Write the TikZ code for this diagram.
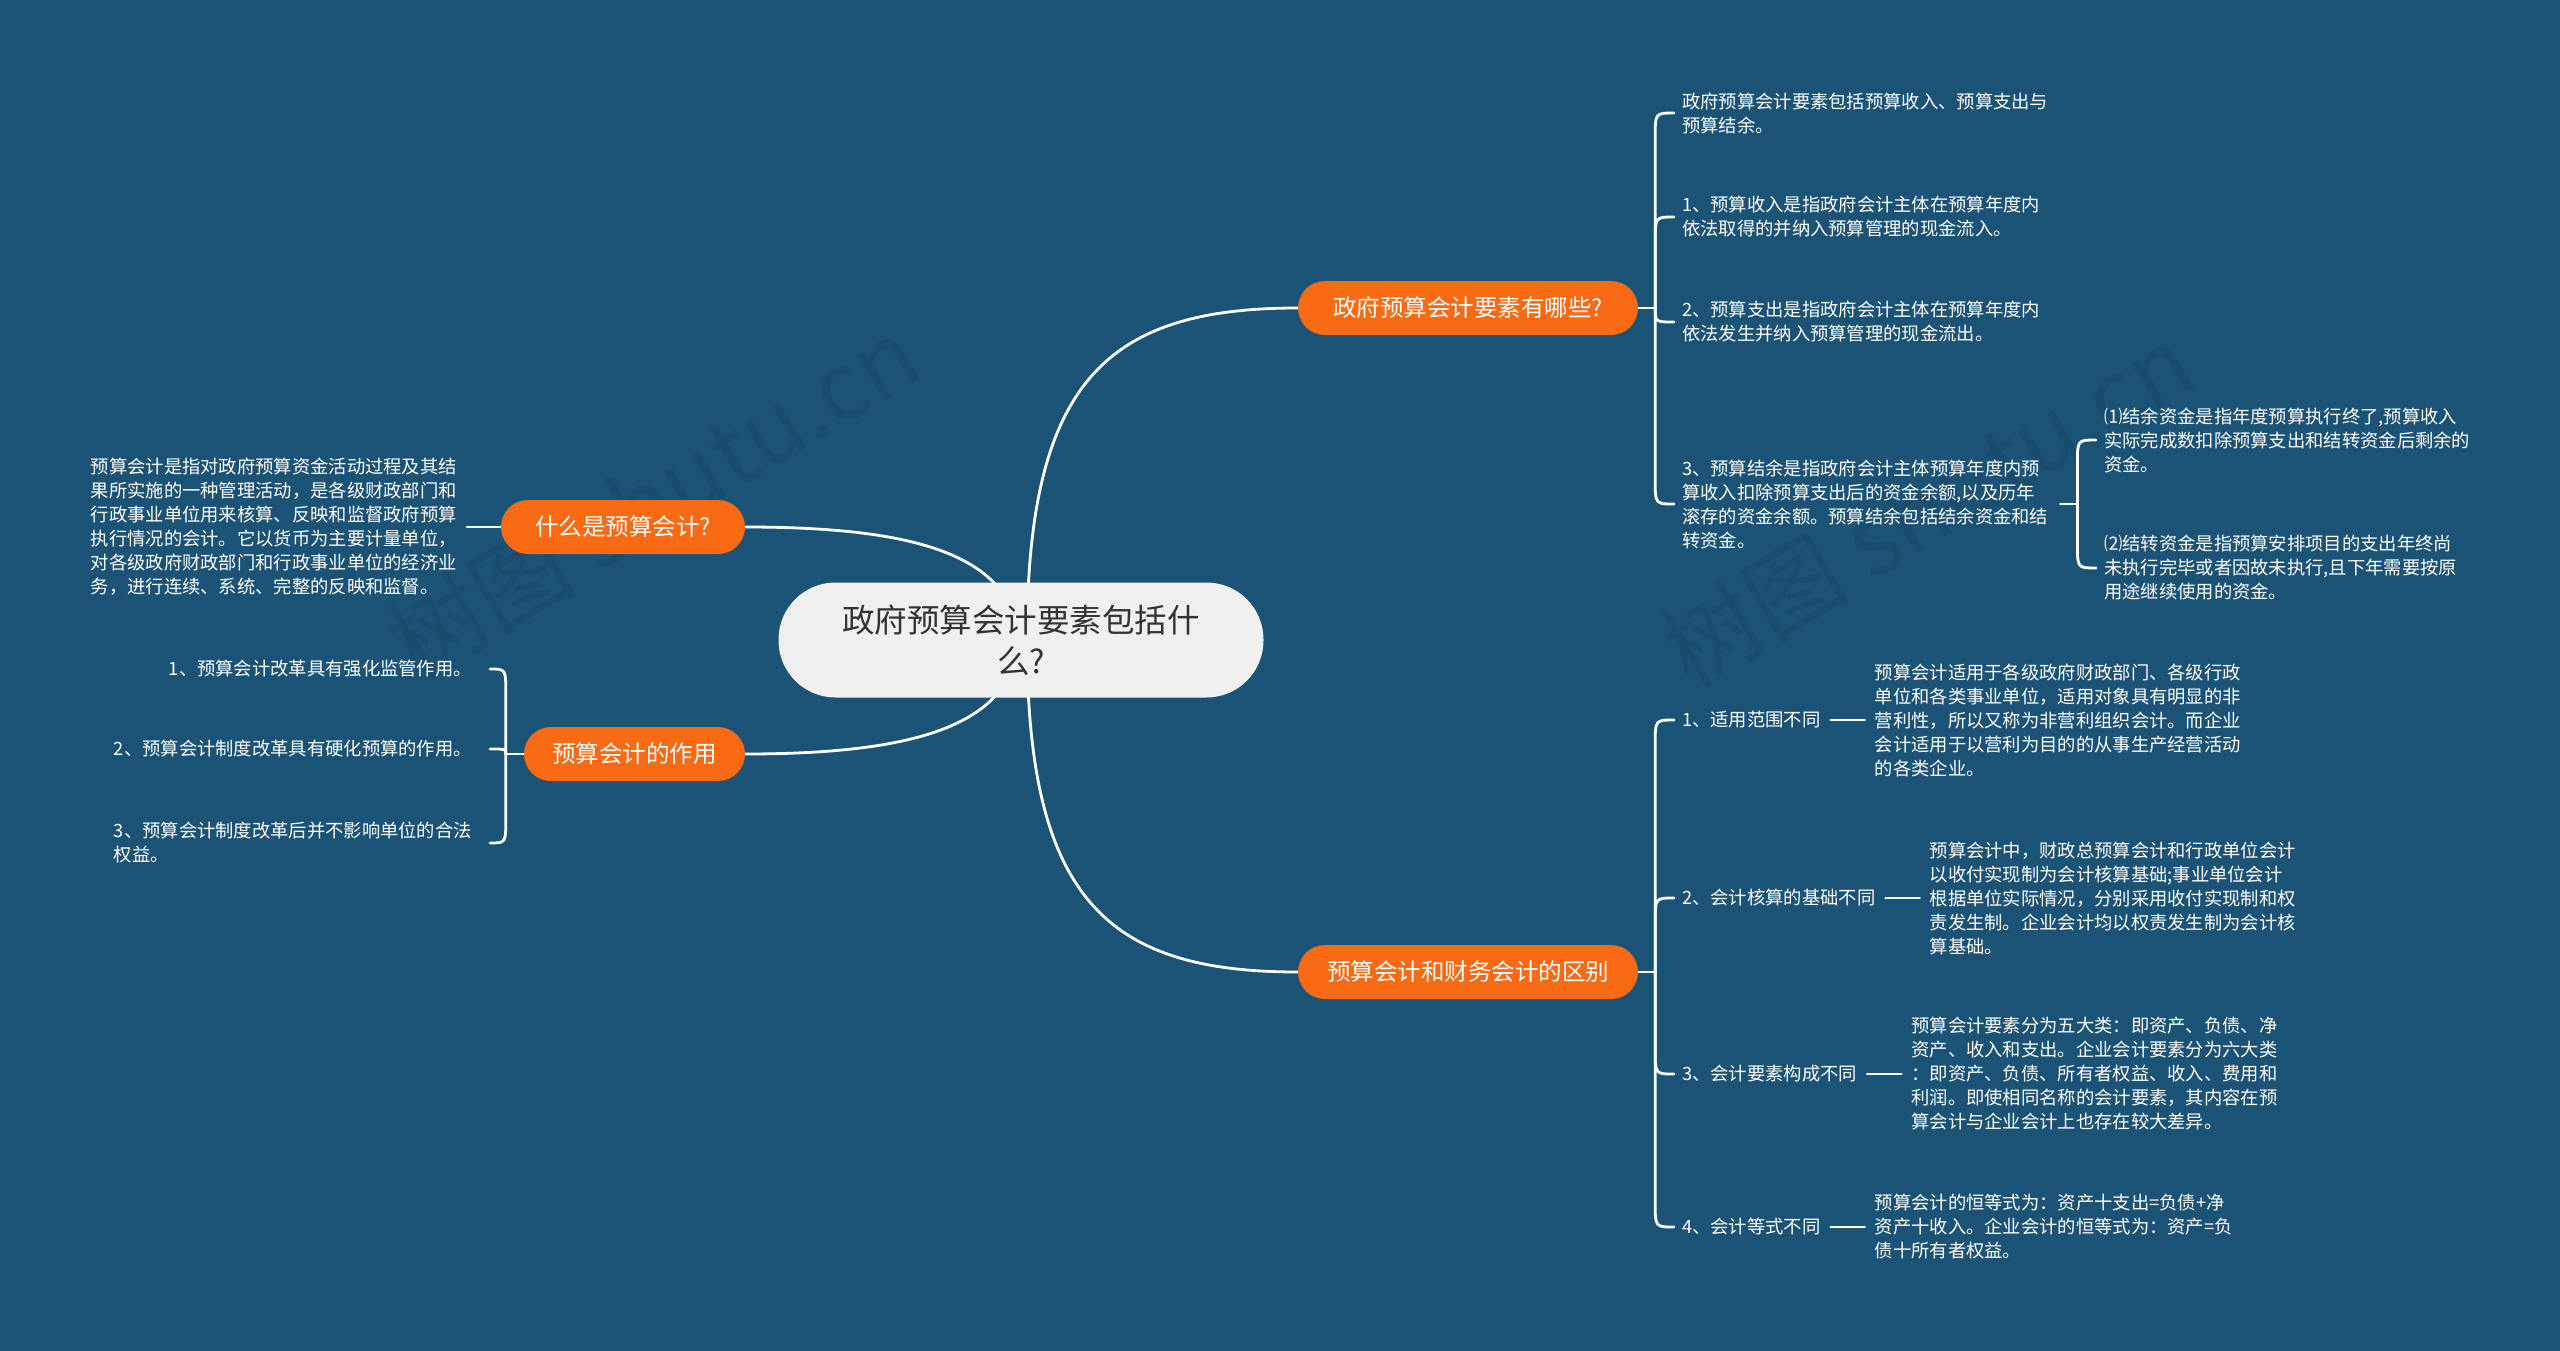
\documentclass[tikz,border=0pt]{standalone}
\usepackage{fontspec}
\setmainfont{Noto Sans CJK SC}
\usetikzlibrary{calc}
\definecolor{bgc}{HTML}{1B5377}
\definecolor{org}{HTML}{F96A14}
\definecolor{ctr}{HTML}{F0F0F0}
\definecolor{ink}{HTML}{333333}
\pgfdeclarelayer{bglayer}
\pgfdeclarelayer{edgelayer}
\pgfsetlayers{bglayer,edgelayer,main}
\begin{document}
\begin{tikzpicture}[x=1pt,y=-1pt,
  link/.style={draw=white, line width=2.8pt, line cap=round},
  topic/.style={fill=org, text=white, rounded corners=27pt, minimum height=54pt, inner xsep=28pt, font=\fontsize{23.5}{28}\selectfont},
  leaf/.style={text=white, inner sep=0pt, align=left, font=\fontsize{18.3}{24}\selectfont},
  central/.style={fill=ctr, text=ink, rounded corners=57pt, minimum width=485pt, minimum height=115pt, align=center, font=\fontsize{32.5}{41}\selectfont},
  wmark/.style={text=black, opacity=0.07, font=\fontsize{95}{95}\selectfont},
]
\useasboundingbox (0,0) rectangle (2560,1351);
\begin{pgfonlayer}{bglayer}
\fill[bgc] (0,0) rectangle (2560,1351);
\node[wmark, rotate=31] (W1) at (653,498) {树图 shutu.cn};
\node[wmark, rotate=31] (W2) at (1927,506) {树图 shutu.cn};
\end{pgfonlayer}

% central and main topics
\node[central] (C) at (1021,640) {政府预算会计要素包括什\\么?};
\node[topic, minimum width=340pt] (P1) at (1468,308) {政府预算会计要素有哪些?};
\node[topic, minimum width=340pt] (P2) at (1468,972) {预算会计和财务会计的区别};
\node[topic, minimum width=244pt] (Q1) at (623,527) {什么是预算会计?};
\node[topic, minimum width=221pt] (Q2) at (634.5,754) {预算会计的作用};

% branch 1
\node[leaf, anchor=west] (T1) at (1682,113) {政府预算会计要素包括预算收入、预算支出与\\预算结余。};
\node[leaf, anchor=west] (T2) at (1682,217) {1、预算收入是指政府会计主体在预算年度内\\依法取得的并纳入预算管理的现金流入。};
\node[leaf, anchor=west] (T3) at (1682,322) {2、预算支出是指政府会计主体在预算年度内\\依法发生并纳入预算管理的现金流出。};
\node[leaf, anchor=west] (T4) at (1682,504) {3、预算结余是指政府会计主体预算年度内预\\算收入扣除预算支出后的资金余额,以及历年\\滚存的资金余额。预算结余包括结余资金和结\\转资金。};
\node[leaf, anchor=west] (S1) at (2104,440) {⑴结余资金是指年度预算执行终了,预算收入\\实际完成数扣除预算支出和结转资金后剩余的\\资金。};
\node[leaf, anchor=west] (S2) at (2104,568) {⑵结转资金是指预算安排项目的支出年终尚\\未执行完毕或者因故未执行,且下年需要按原\\用途继续使用的资金。};

% branch 2
\node[leaf, anchor=west] (D1) at (1682,720) {1、适用范围不同};
\node[leaf, anchor=west] (E1) at ([xshift=54pt]D1.east) {预算会计适用于各级政府财政部门、各级行政\\单位和各类事业单位，适用对象具有明显的非\\营利性，所以又称为非营利组织会计。而企业\\会计适用于以营利为目的的从事生产经营活动\\的各类企业。};
\node[leaf, anchor=west] (D2) at (1682,898) {2、会计核算的基础不同};
\node[leaf, anchor=west] (E2) at ([xshift=54pt]D2.east) {预算会计中，财政总预算会计和行政单位会计\\以收付实现制为会计核算基础;事业单位会计\\根据单位实际情况，分别采用收付实现制和权\\责发生制。企业会计均以权责发生制为会计核\\算基础。};
\node[leaf, anchor=west] (D3) at (1682,1074) {3、会计要素构成不同};
\node[leaf, anchor=west] (E3) at ([xshift=54pt]D3.east) {预算会计要素分为五大类：即资产、负债、净\\资产、收入和支出。企业会计要素分为六大类\\：即资产、负债、所有者权益、收入、费用和\\利润。即使相同名称的会计要素，其内容在预\\算会计与企业会计上也存在较大差异。};
\node[leaf, anchor=west] (D4) at (1682,1227) {4、会计等式不同};
\node[leaf, anchor=west] (E4) at ([xshift=54pt]D4.east) {预算会计的恒等式为：资产十支出=负债+净\\资产十收入。企业会计的恒等式为：资产=负\\债十所有者权益。};

% left side
\node[leaf, anchor=east] (L0) at (457,527) {预算会计是指对政府预算资金活动过程及其结\\果所实施的一种管理活动，是各级财政部门和\\行政事业单位用来核算、反映和监督政府预算\\执行情况的会计。它以货币为主要计量单位，\\对各级政府财政部门和行政事业单位的经济业\\务，进行连续、系统、完整的反映和监督。};
\node[leaf, anchor=east, align=right] (L1) at (472,669) {1、预算会计改革具有强化监管作用。};
\node[leaf, anchor=east, align=right] (L2) at (472,749) {2、预算会计制度改革具有硬化预算的作用。};
\node[leaf, anchor=east] (L3) at (472,843) {3、预算会计制度改革后并不影响单位的合法\\权益。};

\begin{pgfonlayer}{edgelayer}
% central connectors
\draw[link] ([xshift=6pt]C.center) .. controls +(0,-260) and +(-190,0) .. (P1.west);
\draw[link] ([xshift=6pt]C.center) .. controls +(0,260) and +(-190,0) .. (P2.west);
\draw[link] (Q1.east) .. controls +(185,0) and +(-11,-80) .. (C.center);
\draw[link] (Q2.east) .. controls +(185,0) and +(-11,80) .. (C.center);

% branch 1 bracket
\coordinate (b1) at ([xshift=17pt]P1.east);
\draw[link] (P1.east) -- (b1);
\draw[link] (b1) -- ($(b1|-T1.west)+(0,24)$) .. controls (b1|-T1.west) .. ([xshift=-8pt]T1.west);
\draw[link] (b1) -- ($(b1|-T2.west)+(0,24)$) .. controls (b1|-T2.west) .. ([xshift=-8pt]T2.west);
\draw[link] (b1) .. controls (b1|-T3.west) .. ([xshift=-8pt]T3.west);
\draw[link] (b1) -- ($(b1|-T4.west)+(0,-24)$) .. controls (b1|-T4.west) .. ([xshift=-8pt]T4.west);

% sub bracket of T4
\coordinate (b4) at ([xshift=29pt]T4.east);
\draw[link] ([xshift=12pt]T4.east) -- (b4);
\draw[link] (b4) -- ($(b4|-S1.west)+(0,24)$) .. controls (b4|-S1.west) .. ([xshift=-8pt]S1.west);
\draw[link] (b4) -- ($(b4|-S2.west)+(0,-24)$) .. controls (b4|-S2.west) .. ([xshift=-8pt]S2.west);

% branch 2 bracket
\coordinate (b2) at ([xshift=17pt]P2.east);
\draw[link] (P2.east) -- (b2);
\draw[link] (b2) -- ($(b2|-D1.west)+(0,24)$) .. controls (b2|-D1.west) .. ([xshift=-8pt]D1.west);
\draw[link] (b2) -- ($(b2|-D2.west)+(0,24)$) .. controls (b2|-D2.west) .. ([xshift=-8pt]D2.west);
\draw[link] (b2) -- ($(b2|-D3.west)+(0,-24)$) .. controls (b2|-D3.west) .. ([xshift=-8pt]D3.west);
\draw[link] (b2) -- ($(b2|-D4.west)+(0,-24)$) .. controls (b2|-D4.west) .. ([xshift=-8pt]D4.west);
\draw[link] ([xshift=10pt]D1.east) -- ([xshift=-10pt]E1.west);
\draw[link] ([xshift=10pt]D2.east) -- ([xshift=-10pt]E2.west);
\draw[link] ([xshift=10pt]D3.east) -- ([xshift=-10pt]E3.west);
\draw[link] ([xshift=10pt]D4.east) -- ([xshift=-10pt]E4.west);

% left connectors
\draw[link] (Q1.west) -- ([xshift=10pt]L0.east);
\coordinate (b3) at ([xshift=-18pt]Q2.west);
\draw[link] (Q2.west) -- (b3);
\draw[link] (b3) -- ($(b3|-L1.east)+(0,24)$) .. controls (b3|-L1.east) .. ([xshift=18pt]L1.east);
\draw[link] (b3) .. controls (b3|-L2.east) .. ([xshift=18pt]L2.east);
\draw[link] (b3) -- ($(b3|-L3.east)+(0,-24)$) .. controls (b3|-L3.east) .. ([xshift=18pt]L3.east);
\end{pgfonlayer}
\end{tikzpicture}
\end{document}
